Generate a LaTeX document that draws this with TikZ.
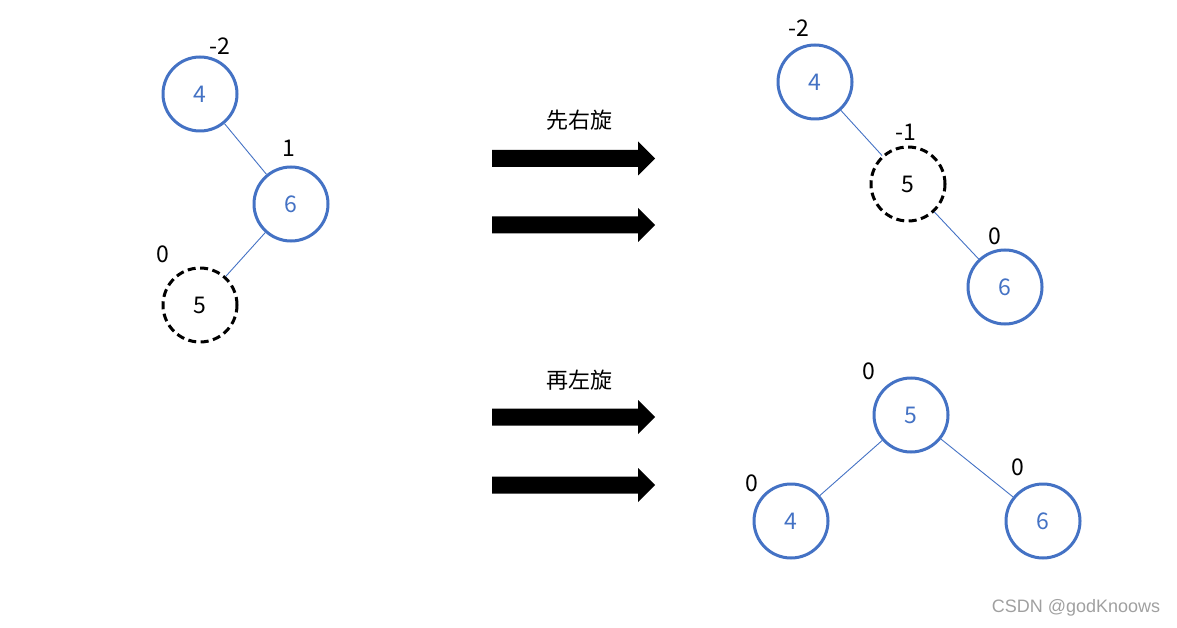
\documentclass[tikz,border=0pt]{standalone}
\usepackage{fontspec}
\setmainfont{Noto Sans CJK SC}
\newfontfamily\wmfont{Liberation Sans}
\definecolor{nodeblue}{HTML}{4472C4}
\definecolor{wmgray}{HTML}{A0A0A0}
\begin{document}
\begin{tikzpicture}[x=1pt,y=-1pt,
  bnode/.style={circle,draw=nodeblue,line width=3pt,minimum size=74pt,inner sep=0pt,text=nodeblue,font=\fontsize{23}{27}\selectfont},
  dnode/.style={circle,draw=black,line width=3pt,dash pattern=on 8pt off 4.5pt,minimum size=74pt,inner sep=0pt,text=black,font=\fontsize{23}{27}\selectfont},
  bal/.style={text=black,inner sep=0pt,font=\fontsize{23}{27}\selectfont},
  edge/.style={draw=nodeblue,line width=0.9pt},
  captext/.style={text=black,inner sep=0pt,font=\fontsize{22}{27}\selectfont},
  bigarrow/.style={fill=black,draw=none}
]
\useasboundingbox (0,0) rectangle (1177,628);
% tree 1
\node[bnode] (a4) at (200,94) {4};
\node[bnode] (a6) at (291,204) {6};
\node[dnode] (a5) at (200,305) {5};
\draw[edge] (a4) -- (a6);
\draw[edge] (a6) -- (a5);
\node[bal] (la4) at (220,46) {-2};
\node[bal] (la6) at (289,148) {1};
\node[bal] (la5) at (163,254) {0};
% tree 2
\node[bnode] (b4) at (815,82) {4};
\node[dnode] (b5) at (908,184) {5};
\node[bnode] (b6) at (1005,287) {6};
\draw[edge] (b4) -- (b5);
\draw[edge] (b5) -- (b6);
\node[bal] (lb4) at (799,28) {-2};
\node[bal] (lb5) at (906,132) {-1};
\node[bal] (lb6) at (995,236) {0};
% tree 3
\node[bnode] (c5) at (911,415) {5};
\node[bnode] (c4) at (791,521) {4};
\node[bnode] (c6) at (1043,521) {6};
\draw[edge] (c5) -- (c4);
\draw[edge] (c5) -- (c6);
\node[bal] (lc5) at (869,371) {0};
\node[bal] (lc4) at (752,483) {0};
\node[bal] (lc6) at (1018,467) {0};
% captions
\node[captext] (t1) at (579,120) {先右旋};
\node[captext] (t2) at (579,380) {再左旋};
% arrows
\foreach \yc in {158.5,225,417,485}{
  \fill[bigarrow] (492,\yc-8.5) -- (638,\yc-8.5) -- (638,\yc-17) -- (655,\yc) -- (638,\yc+17) -- (638,\yc+8.5) -- (492,\yc+8.5) -- cycle;
}
% watermark
\node[text=wmgray,inner sep=0pt,font=\wmfont\fontsize{18}{21}\selectfont] (wm) at (1076,608) {CSDN @godKnoows};
\end{tikzpicture}
\end{document}
